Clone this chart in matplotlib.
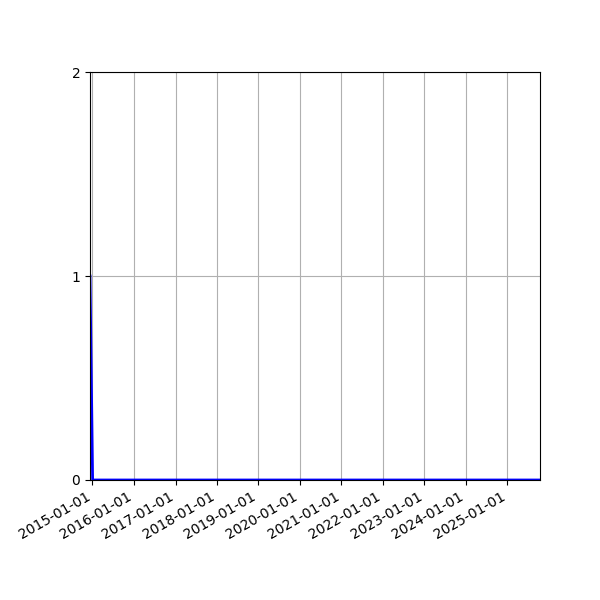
import numpy as np
import matplotlib
matplotlib.use('Agg')
import matplotlib.pyplot as plt
import matplotlib.dates as mdates

# values
dates = np.array(['2014-12-10', '2015-01-02', '2025-10-15'], dtype='datetime64[D]')
counts = [1, 0, 0]
y_ticks = [0, 1, 2]

fig, ax = plt.subplots(figsize=(6, 6), dpi=100)
ax.plot(dates, counts, color='blue', linewidth=2)

ax.set_xlim(dates[0], dates[-1])
ax.set_ylim(0, 2)
ax.set_yticks(y_ticks)
ax.xaxis.set_major_locator(mdates.YearLocator())
ax.xaxis.set_major_formatter(mdates.DateFormatter('%Y-%m-%d'))
ax.grid(True)
fig.autofmt_xdate()
fig.subplots_adjust(left=0.15, right=0.9, top=0.88, bottom=0.2)

fig.savefig('out.png')
